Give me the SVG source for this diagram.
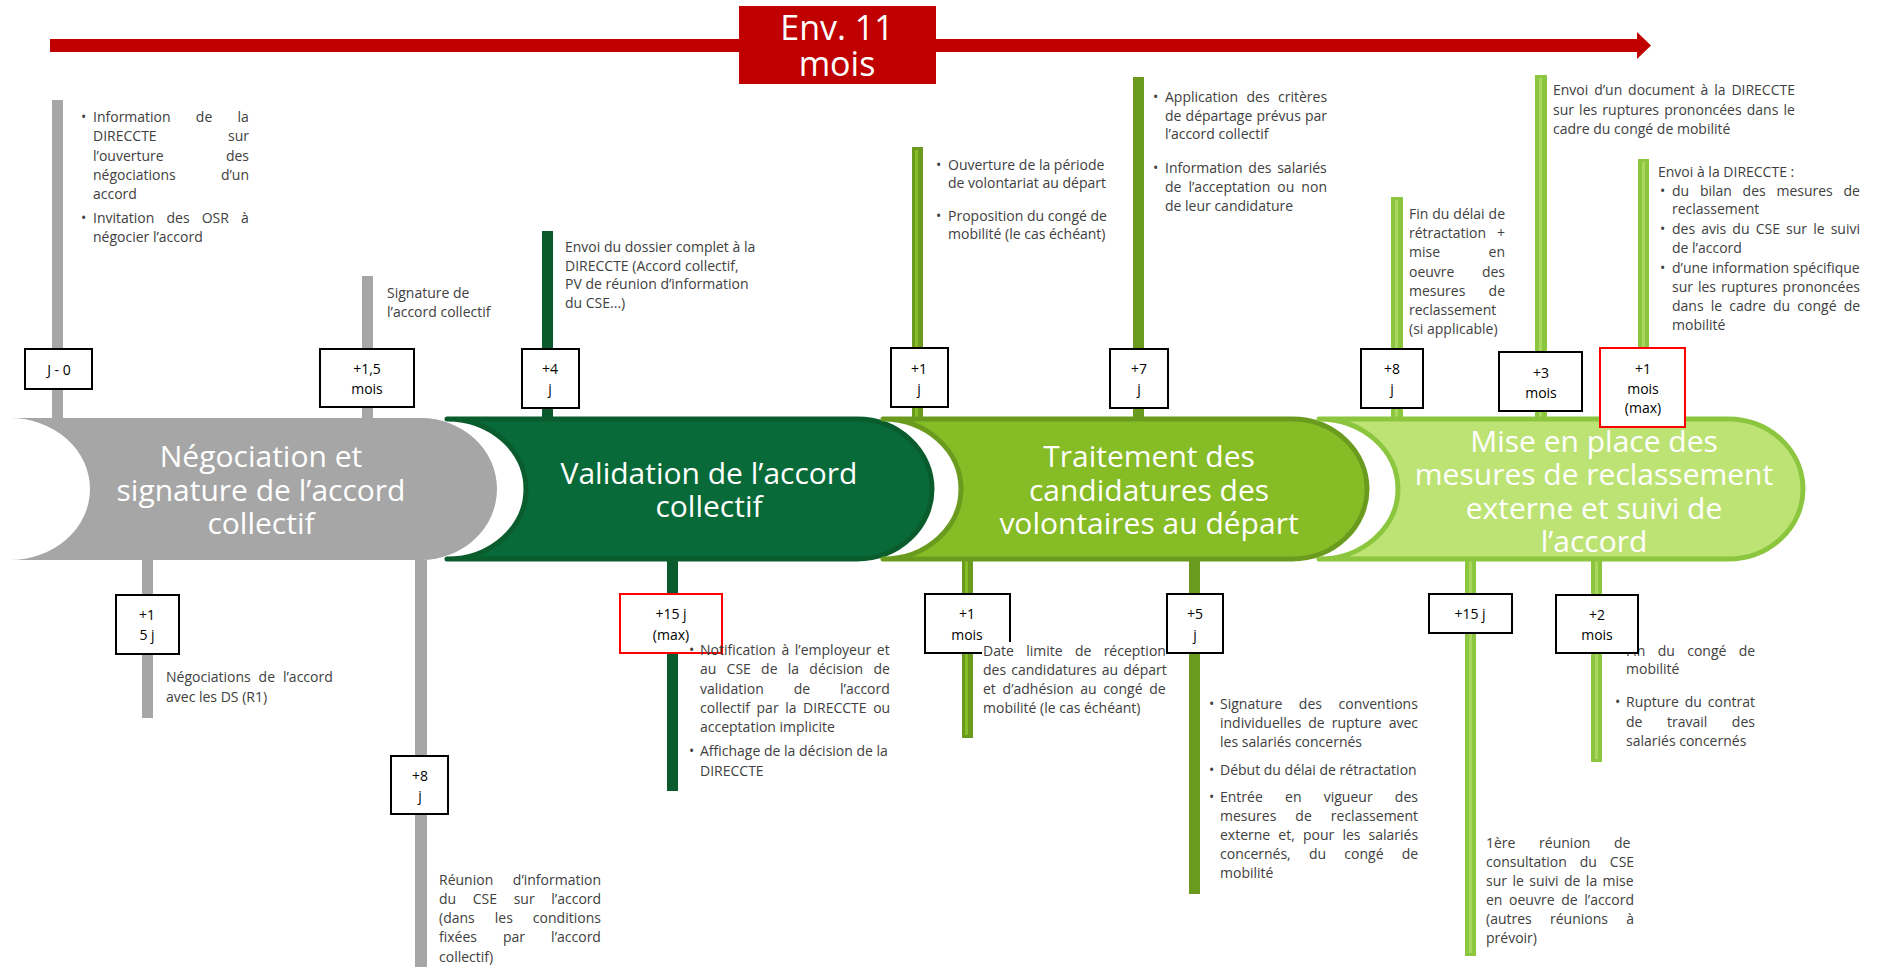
<svg xmlns="http://www.w3.org/2000/svg" width="1877" height="967" viewBox="0 0 1877 967">
<style>
.t{font-family:"Open Sans","Liberation Sans",sans-serif;font-size:14px;fill:#404040}
.e{text-anchor:end}
.m{text-anchor:middle}
.bx{fill:#fff;stroke:#000;stroke-width:2}
.bxr{fill:#fff;stroke:#FF0000;stroke-width:2}
.bl{font-family:"Open Sans","Liberation Sans",sans-serif;font-size:14px;fill:#000;text-anchor:middle}
.pt{font-family:"Open Sans","Liberation Sans",sans-serif;font-size:30px;fill:#fff;text-anchor:middle}
.gray{fill:#A6A6A6}
.dk{fill:#0B5A2E}
.ol{fill:#6B9B1E}
.oli{fill:#86BC25}
.lt{fill:#8CC63F}
.lti{fill:#A9D65E}
</style>
<rect width="1877" height="967" fill="#fff"/>

<g id="timeline">
<rect x="50" y="39" width="1590" height="13" fill="#C00000"/>
<polygon points="1637,32 1651,45.5 1637,59" fill="#C00000"/>
<rect x="739" y="6" width="197" height="78" fill="#C00000"/>
<text x="837" y="40" text-anchor="middle" font-family="'Open Sans','Liberation Sans',sans-serif" font-size="34" fill="#fff">Env. 11</text>
<text x="837" y="76" text-anchor="middle" font-family="'Open Sans','Liberation Sans',sans-serif" font-size="34" fill="#fff">mois</text>
</g>

<g id="connectors">
<rect class="gray" x="52" y="100" width="11" height="318"/>
<rect class="gray" x="362" y="276" width="11" height="142"/>
<rect class="dk" x="542" y="231" width="11" height="187"/>
<rect class="ol" x="912" y="147" width="11" height="271"/><rect class="oli" x="915" y="150" width="3" height="268"/>
<rect class="ol" x="1133" y="77" width="11" height="341"/>
<rect class="lt" x="1391" y="197" width="12" height="221"/><rect class="lti" x="1395" y="200" width="3" height="218"/>
<rect class="lt" x="1535" y="75" width="12" height="343"/><rect class="lti" x="1539" y="78" width="3" height="340"/>
<rect class="lt" x="1638" y="159" width="11" height="259"/><rect class="lti" x="1642" y="162" width="3" height="256"/>
<rect class="gray" x="142" y="560" width="11" height="158"/>
<rect class="gray" x="415" y="560" width="12" height="407"/>
<rect class="dk" x="667" y="560" width="11" height="231"/>
<rect class="ol" x="962" y="560" width="11" height="178"/><rect class="oli" x="965" y="560" width="3" height="175"/>
<rect class="ol" x="1189" y="560" width="11" height="334"/>
<rect class="lt" x="1465" y="560" width="11" height="396"/><rect class="lti" x="1469" y="560" width="3" height="393"/>
<rect class="lt" x="1591" y="560" width="11" height="202"/><rect class="lti" x="1595" y="560" width="3" height="199"/>
</g>

<g id="phase1">
<path d="M10,418 H421 A76,71 0 0 1 421,560 H10 A80,71 0 0 0 10,418 Z" fill="#A6A6A6"/>
<text class="pt" x="261" y="467">Négociation et</text>
<text class="pt" x="261" y="501">signature de l’accord</text>
<text class="pt" x="261" y="534">collectif</text>
</g>
<g id="phase2">
<path d="M447,419 H857 A75,70 0 0 1 857,559 H447 A79,70 0 0 0 447,419 Z" fill="#076A38" stroke="#0A5C2C" stroke-width="5" stroke-linejoin="round"/>
<text class="pt" x="709" y="484">Validation de l’accord</text>
<text class="pt" x="709" y="517">collectif</text>
</g>
<g id="phase3">
<path d="M883,419 H1292 A75,70 0 0 1 1292,559 H883 A78,70 0 0 0 883,419 Z" fill="#86BC25" stroke="#6B9B1E" stroke-width="5" stroke-linejoin="round"/>
<text class="pt" x="1149" y="467">Traitement des</text>
<text class="pt" x="1149" y="501">candidatures des</text>
<text class="pt" x="1149" y="534">volontaires au départ</text>
</g>
<g id="phase4">
<path d="M1319,419 H1728 A75,70 0 0 1 1728,559 H1319 A79,70 0 0 0 1319,419 Z" fill="#BEE375" stroke="#8CC63F" stroke-width="5" stroke-linejoin="round"/>
<text class="pt" x="1594" y="452">Mise en place des</text>
<text class="pt" x="1594" y="485">mesures de reclassement</text>
<text class="pt" x="1594" y="519">externe et suivi de</text>
<text class="pt" x="1594" y="552">l’accord</text>
</g>

<g id="m-j0">
<rect class="bx" x="25" y="349" width="67" height="40"/>
<text class="bl" x="59" y="375">J - 0</text>
<text class="t" x="81" y="122">•</text>
<text class="t" x="93" y="122" style="word-spacing:21.6px">Information de la</text>
<text class="t" x="93" y="141">DIRECCTE</text><text class="t e" x="249" y="141">sur</text>
<text class="t" x="93" y="161">l’ouverture</text><text class="t e" x="249" y="161">des</text>
<text class="t" x="93" y="180">négociations</text><text class="t e" x="249" y="180">d’un</text>
<text class="t" x="93" y="199">accord</text>
<text class="t" x="81" y="223">•</text>
<text class="t" x="93" y="223" style="word-spacing:8.5px">Invitation des OSR à</text>
<text class="t" x="93" y="242">négocier l’accord</text>
</g>

<g id="m-15mois">
<rect class="bx" x="320" y="349" width="94" height="58"/>
<text class="bl" x="367" y="374">+1,5</text>
<text class="bl" x="367" y="394">mois</text>
<text class="t" x="387" y="298">Signature de</text>
<text class="t" x="387" y="317">l’accord collectif</text>
</g>

<g id="m-4j">
<rect class="bx" x="522" y="349" width="57" height="59"/>
<text class="bl" x="550" y="374">+4</text>
<text class="bl" x="550" y="394">j</text>
<text class="t" x="565" y="252">Envoi du dossier complet à la</text>
<text class="t" x="565" y="271">DIRECCTE (Accord collectif,</text>
<text class="t" x="565" y="289">PV de réunion d’information</text>
<text class="t" x="565" y="308">du CSE...)</text>
</g>

<g id="m-1j">
<rect class="bx" x="891" y="348" width="57" height="59"/>
<text class="bl" x="919" y="374">+1</text>
<text class="bl" x="919" y="394">j</text>
<text class="t" x="936" y="170">•</text>
<text class="t" x="948" y="170">Ouverture de la période</text>
<text class="t" x="948" y="188">de volontariat au départ</text>
<text class="t" x="936" y="221">•</text>
<text class="t" x="948" y="221">Proposition du congé de</text>
<text class="t" x="948" y="239">mobilité (le cas échéant)</text>
</g>

<g id="m-7j">
<rect class="bx" x="1110" y="349" width="58" height="59"/>
<text class="bl" x="1139" y="374">+7</text>
<text class="bl" x="1139" y="394">j</text>
<text class="t" x="1153" y="102">•</text>
<text class="t" x="1165" y="102" style="word-spacing:4.8px">Application des critères</text>
<text class="t" x="1165" y="121" style="word-spacing:0.5px">de départage prévus par</text>
<text class="t" x="1165" y="139">l’accord collectif</text>
<text class="t" x="1153" y="173">•</text>
<text class="t" x="1165" y="173" style="word-spacing:2.1px">Information des salariés</text>
<text class="t" x="1165" y="192" style="word-spacing:3.4px">de l’acceptation ou non</text>
<text class="t" x="1165" y="211">de leur candidature</text>
</g>

<g id="m-8j">
<rect class="bx" x="1361" y="349" width="62" height="59"/>
<text class="bl" x="1392" y="374">+8</text>
<text class="bl" x="1392" y="394">j</text>
<text class="t" x="1409" y="219" style="word-spacing:0.3px">Fin du délai de</text>
<text class="t" x="1409" y="238">rétractation</text><text class="t e" x="1505" y="238">+</text>
<text class="t" x="1409" y="257">mise</text><text class="t e" x="1505" y="257">en</text>
<text class="t" x="1409" y="277">oeuvre</text><text class="t e" x="1505" y="277">des</text>
<text class="t" x="1409" y="296">mesures</text><text class="t e" x="1505" y="296">de</text>
<text class="t" x="1409" y="315">reclassement</text>
<text class="t" x="1409" y="334">(si applicable)</text>
</g>

<g id="m-3mois">
<rect class="bx" x="1499" y="352" width="83" height="59"/>
<text class="bl" x="1541" y="378">+3</text>
<text class="bl" x="1541" y="398">mois</text>
<text class="t" x="1553" y="95" style="word-spacing:2.2px">Envoi d’un document à la DIRECCTE</text>
<text class="t" x="1553" y="115" style="word-spacing:1.5px">sur les ruptures prononcées dans le</text>
<text class="t" x="1553" y="134">cadre du congé de mobilité</text>
</g>

<g id="m-1moismax">
<rect class="bxr" x="1600" y="348" width="85" height="79"/>
<text class="bl" x="1643" y="374">+1</text>
<text class="bl" x="1643" y="394">mois</text>
<text class="bl" x="1643" y="413">(max)</text>
<text class="t" x="1658" y="177">Envoi à la DIRECCTE :</text>
<text class="t" x="1660" y="196">•</text>
<text class="t" x="1672" y="196" style="word-spacing:7.1px">du bilan des mesures de</text>
<text class="t" x="1672" y="214">reclassement</text>
<text class="t" x="1660" y="234">•</text>
<text class="t" x="1672" y="234" style="word-spacing:2.5px">des avis du CSE sur le suivi</text>
<text class="t" x="1672" y="253">de l’accord</text>
<text class="t" x="1660" y="273">•</text>
<text class="t" x="1672" y="273" style="word-spacing:0.3px">d’une information spécifique</text>
<text class="t" x="1672" y="292" style="word-spacing:1.3px">sur les ruptures prononcées</text>
<text class="t" x="1672" y="311" style="word-spacing:3.5px">dans le cadre du congé de</text>
<text class="t" x="1672" y="330">mobilité</text>
</g>

<g id="m-15j">
<rect class="bx" x="116" y="595" width="63" height="59"/>
<text class="bl" x="147" y="620">+1</text>
<text class="bl" x="147" y="640">5 j</text>
<text class="t" x="166" y="682" style="word-spacing:4.3px">Négociations de l’accord</text>
<text class="t" x="166" y="702">avec les DS (R1)</text>
</g>

<g id="m-8j-bottom">
<rect class="bx" x="391" y="756" width="57" height="58"/>
<text class="bl" x="420" y="781">+8</text>
<text class="bl" x="420" y="801">j</text>
<text class="t" x="439" y="885">Réunion</text><text class="t e" x="601" y="885">d’information</text>
<text class="t" x="439" y="904" style="word-spacing:13px">du CSE sur l’accord</text>
<text class="t" x="439" y="923" style="word-spacing:16.4px">(dans les conditions</text>
<text class="t" x="439" y="942" style="word-spacing:22.4px">fixées par l’accord</text>
<text class="t" x="439" y="962">collectif)</text>
</g>

<g id="m-15jmax">
<rect class="bxr" x="620" y="594" width="102" height="59"/>
<text class="bl" x="671" y="619">+15 j</text>
<text class="bl" x="671" y="640">(max)</text>
<text class="t" x="689" y="655">•</text>
<text class="t" x="700" y="655" style="word-spacing:2px">Notification à l’employeur et</text>
<text class="t" x="700" y="674" style="word-spacing:6.6px">au CSE de la décision de</text>
<text class="t" x="700" y="694" style="word-spacing:26.3px">validation de l’accord</text>
<text class="t" x="700" y="713" style="word-spacing:2.9px">collectif par la DIRECCTE ou</text>
<text class="t" x="700" y="732">acceptation implicite</text>
<text class="t" x="689" y="756">•</text>
<text class="t" x="700" y="756">Affichage de la décision de la</text>
<text class="t" x="700" y="776">DIRECCTE</text>
</g>

<g id="m-1mois">
<rect class="bx" x="925" y="594" width="85" height="59"/>
<text class="bl" x="967" y="619">+1</text>
<text class="bl" x="967" y="640">mois</text>
<rect x="982" y="642" width="186" height="78" fill="#fff"/>
<text class="t" x="983" y="656" style="word-spacing:8.7px">Date limite de réception</text>
<text class="t" x="983" y="675" style="word-spacing:1.5px">des candidatures au départ</text>
<text class="t" x="983" y="694" style="word-spacing:3.1px">et d’adhésion au congé de</text>
<text class="t" x="983" y="713">mobilité (le cas échéant)</text>
</g>

<g id="m-5j">
<rect class="bx" x="1167" y="594" width="56" height="59"/>
<text class="bl" x="1195" y="619">+5</text>
<text class="bl" x="1195" y="640">j</text>
<text class="t" x="1209" y="709">•</text>
<text class="t" x="1220" y="709" style="word-spacing:12.9px">Signature des conventions</text>
<text class="t" x="1220" y="728" style="word-spacing:3.3px">individuelles de rupture avec</text>
<text class="t" x="1220" y="747">les salariés concernés</text>
<text class="t" x="1209" y="775">•</text>
<text class="t" x="1220" y="775">Début du délai de rétractation</text>
<text class="t" x="1209" y="802">•</text>
<text class="t" x="1220" y="802" style="word-spacing:18.6px">Entrée en vigueur des</text>
<text class="t" x="1220" y="821" style="word-spacing:15.4px">mesures de reclassement</text>
<text class="t" x="1220" y="840" style="word-spacing:4.5px">externe et, pour les salariés</text>
<text class="t" x="1220" y="859" style="word-spacing:14.6px">concernés, du congé de</text>
<text class="t" x="1220" y="878">mobilité</text>
</g>

<g id="m-15j-b">
<rect class="bx" x="1429" y="594" width="83" height="39"/>
<text class="bl" x="1470" y="619">+15 j</text>
<text class="t" x="1486" y="848" style="word-spacing:20px">1ère réunion de</text>
<text class="t" x="1486" y="867" style="word-spacing:9.3px">consultation du CSE</text>
<text class="t" x="1486" y="886" style="word-spacing:1.8px">sur le suivi de la mise</text>
<text class="t" x="1486" y="905" style="word-spacing:3px">en oeuvre de l’accord</text>
<text class="t" x="1486" y="924" style="word-spacing:14.6px">(autres réunions à</text>
<text class="t" x="1486" y="943">prévoir)</text>
</g>

<g id="m-2mois">
<text class="t" x="1615" y="656">•</text>
<text class="t" x="1626" y="656" style="word-spacing:8.7px">Fin du congé de</text>
<text class="t" x="1626" y="674">mobilité</text>
<text class="t" x="1615" y="707">•</text>
<text class="t" x="1626" y="707" style="word-spacing:2.2px">Rupture du contrat</text>
<text class="t" x="1626" y="727" style="word-spacing:20.9px">de travail des</text>
<text class="t" x="1626" y="746">salariés concernés</text>
<rect class="bx" x="1556" y="595" width="82" height="58"/>
<text class="bl" x="1597" y="620">+2</text>
<text class="bl" x="1597" y="640">mois</text>
</g>
</svg>
